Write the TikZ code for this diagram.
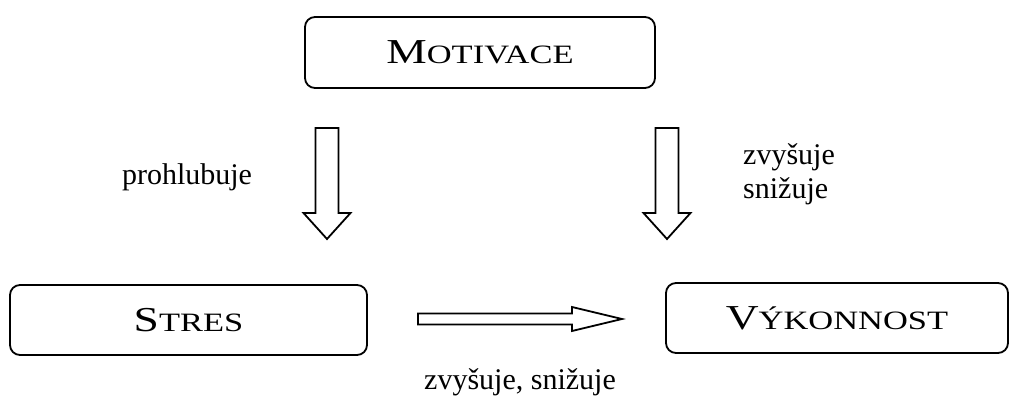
\documentclass[tikz,border=0pt]{standalone}
\usepackage{fontspec}
\setmainfont{Liberation Serif}
\newfontfamily\titlefont[FakeStretch=1.3]{Liberation Serif}
\usetikzlibrary{calc}

% hand-made small capitals for the box titles
\newcommand\capbig[1]{{\fontsize{35}{40}\selectfont #1}}
\newcommand\capsmall[1]{{\fontsize{26.5}{30}\selectfont #1}}

% hollow block arrows between two named coordinates
\newcommand\blockdown[2]{%
  \draw[blockarrow] ($(#1)+(-11.5,0)$) -- ($(#2)+(-11.5,26)$) -- ($(#2)+(-23.5,26)$)
    -- (#2) -- ($(#2)+(23.5,26)$) -- ($(#2)+(11.5,26)$) -- ($(#1)+(11.5,0)$) -- cycle;}
\newcommand\blockright[2]{%
  \draw[blockarrow] ($(#1)+(0,5.5)$) -- ($(#2)+(-50,5.5)$) -- ($(#2)+(-50,12)$)
    -- (#2) -- ($(#2)+(-50,-12)$) -- ($(#2)+(-50,-5.5)$) -- ($(#1)+(0,-5.5)$) -- cycle;}

\tikzset{
  titlebox/.style={draw, line width=1.8pt, rounded corners=10pt, inner sep=0pt,
    text height=23pt, text depth=0pt, font=\titlefont},
  blockarrow/.style={draw, line width=1.8pt, fill=white, line join=miter},
  lbl/.style={inner sep=0pt, font=\fontsize{30}{34}\selectfont}
}

\begin{document}
\begin{tikzpicture}[x=1pt, y=1pt]
  \useasboundingbox (0,0) rectangle (1013,399);

  % boxes
  \node[titlebox, minimum width=350pt, minimum height=71pt] (mot) at (480,346.5)
    {\capbig{M}\capsmall{OTIVACE}};
  \node[titlebox, minimum width=357pt, minimum height=70pt] (str) at (188.5,79)
    {\capbig{S}\capsmall{TRES}};
  \node[titlebox, minimum width=342pt, minimum height=70pt] (vyk) at (837,81)
    {\capbig{V}\capsmall{ÝKONNOST}};

  % arrow end points
  \coordinate (tailL) at (327,271);
  \coordinate (tipL)  at (327,160);
  \coordinate (tailR) at (667,271);
  \coordinate (tipR)  at (667,160);
  \coordinate (tailH) at (418,80);
  \coordinate (tipH)  at (622,80);

  \blockdown{tailL}{tipL}
  \blockdown{tailR}{tipR}
  \blockright{tailH}{tipH}

  % labels
  \node[lbl, anchor=base] (lprohl) at (187,214) {prohlubuje};
  \node[lbl, anchor=base west] (lzvys) at (743,234) {zvyšuje};
  \node[lbl, anchor=base west] (lsniz) at (743,200) {snižuje};
  \node[lbl, anchor=base] (lboth) at (520,9) {zvyšuje, snižuje};
\end{tikzpicture}
\end{document}
